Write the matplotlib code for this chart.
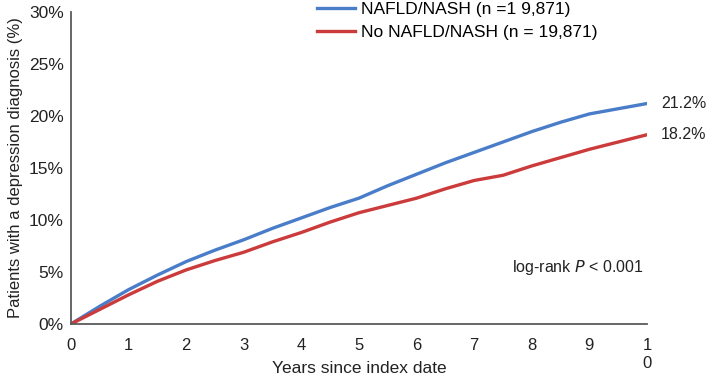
import numpy as np
import matplotlib
matplotlib.use('Agg')
import matplotlib.pyplot as plt

plt.rcParams['font.family'] = ['Liberation Sans', 'DejaVu Sans']

# cumulative incidence, every half year
years = [0, 0.5, 1, 1.5, 2, 2.5, 3, 3.5, 4, 4.5, 5, 5.5, 6, 6.5, 7, 7.5, 8, 8.5, 9, 9.5, 10]
nafld = [0, 1.7, 3.3, 4.7, 6.0, 7.1, 8.1, 9.2, 10.2, 11.2, 12.1, 13.3, 14.4, 15.5, 16.5, 17.5, 18.5, 19.4, 20.2, 20.7, 21.2]
no_nafld = [0, 1.4, 2.8, 4.1, 5.2, 6.1, 6.9, 7.9, 8.8, 9.8, 10.7, 11.4, 12.1, 13.0, 13.8, 14.3, 15.2, 16.0, 16.8, 17.5, 18.2]

x_ticks = list(range(11))
x_ticklabels = ['0', '1', '2', '3', '4', '5', '6', '7', '8', '9', '1\n0']
y_ticks = [0, 5, 10, 15, 20, 25, 30]
y_ticklabels = ['0%', '5%', '10%', '15%', '20%', '25%', '30%']

labels = ['NAFLD/NASH (n =1 9,871)', 'No NAFLD/NASH (n = 19,871)']
end_labels = ['21.2%', '18.2%']
blue = '#4A7DC9'
red = '#CC3B3B'

fig = plt.figure(figsize=(7.09, 3.81), dpi=100)
ax = fig.add_axes([0.100, 0.1496, 0.8126, 0.8189])

l1, = ax.plot(years, nafld, color=blue, lw=2.4, label=labels[0])
l2, = ax.plot(years, no_nafld, color=red, lw=2.4, label=labels[1])

ax.set_xlim(0, 10)
ax.set_ylim(0, 30)
ax.set_xticks(x_ticks)
ax.set_xticklabels(x_ticklabels, fontsize=12, linespacing=1.3)
ax.set_yticks(y_ticks)
ax.set_yticklabels(y_ticklabels, fontsize=12.5)
ax.tick_params(axis='both', length=0, colors='#222222')
ax.tick_params(axis='x', pad=10)
ax.tick_params(axis='y', pad=5)

for s in ['top', 'right']:
    ax.spines[s].set_visible(False)
for s in ['left', 'bottom']:
    ax.spines[s].set_color('#5a5a5a')
    ax.spines[s].set_linewidth(1.3)

ax.set_ylabel('Patients with a depression diagnosis (%)', fontsize=12, color='#222222', labelpad=4)
ax.set_xlabel('Years since index date', fontsize=12.5, color='#222222')
ax.xaxis.set_label_coords(0.5, -0.118)

# end-point labels
ax.annotate(end_labels[0], xy=(years[-1], nafld[-1]), xytext=(10, 0), textcoords='offset points',
            va='center', ha='left', fontsize=11.5, color='#222222', annotation_clip=False)
ax.annotate(end_labels[1], xy=(years[-1], no_nafld[-1]), xytext=(10, 0), textcoords='offset points',
            va='center', ha='left', fontsize=11.5, color='#222222', annotation_clip=False)

ax.text(0.765, 0.18, 'log-rank $\\mathit{P}$ < 0.001', transform=ax.transAxes, fontsize=11.5,
        color='#222222', va='center', ha='left')

fig.legend(handles=[l1, l2], loc='upper left', bbox_to_anchor=(0.425, 1.035), frameon=False,
           fontsize=12.5, handlelength=2.2, handletextpad=0.35, labelspacing=0.45)

fig.savefig('out.png', dpi=100)
